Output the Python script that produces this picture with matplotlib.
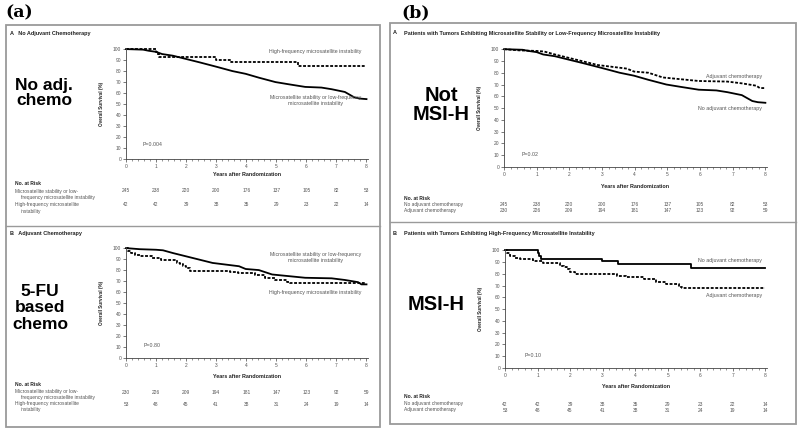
import numpy as np
import matplotlib
matplotlib.use('Agg')
import matplotlib.pyplot as plt
import matplotlib.ticker as mticker
import matplotlib.transforms as mtransforms
from matplotlib.patches import Rectangle

plt.rcParams['font.family'] = ['Liberation Sans', 'DejaVu Sans']

# ---------
#   data: Kaplan-Meier curves (years, % surviving)
#   MSS curves have many small events -> read as a polyline
#   MSI-H curves have few events -> read as steps
# ---------
mss_noadj_t = [0, 0.57, 0.75, 1.0, 1.2, 1.56, 2.0, 2.44, 3.0, 3.54, 3.98, 4.42, 4.97, 5.41, 5.96, 6.5, 6.84, 7.28, 7.6, 7.77, 8.0]
mss_noadj_s = [100, 99.5, 98.5, 97.5, 95.5, 94, 91, 88, 84, 80, 77.5, 74, 70, 68, 65.6, 65, 63.5, 61, 56, 55, 54.5]

mss_adj_t = [0, 0.46, 1.0, 1.23, 1.56, 2.0, 2.44, 2.88, 3.32, 3.76, 3.98, 4.42, 4.86, 5.41, 5.96, 6.84, 7.28, 7.72, 7.83, 8.0]
mss_adj_s = [100, 99, 98.5, 98, 95.5, 92.5, 89.5, 86.5, 85, 83.5, 81, 80, 76, 74.5, 73, 72.5, 71, 69, 67, 67]

msih_noadj_t = [0, 1.0, 1.04, 1.1, 2.98, 3.48, 5.72, 8.0]
msih_noadj_s = [100, 97.6, 95.2, 92.9, 90.5, 88.1, 84.6, 84.6]

msih_adj_t = [0, 0.06, 0.16, 0.3, 0.46, 0.87, 1.17, 1.68, 1.8, 1.89, 1.99, 2.14, 3.45, 3.72, 4.28, 4.64, 4.94, 5.35, 5.45, 8.0]
msih_adj_s = [100, 97.5, 95.3, 93.5, 92.5, 90.7, 89.3, 86.8, 85.5, 83.7, 81.7, 79.4, 78, 76.9, 75.2, 73.2, 71, 69, 68.2, 68.2]

years = [0, 1, 2, 3, 4, 5, 6, 7, 8]
risk_mss_noadj = [245, 238, 220, 200, 176, 137, 105, 82, 53]
risk_mss_adj = [230, 226, 209, 194, 181, 147, 123, 92, 59]
risk_msih_noadj = [42, 42, 39, 38, 35, 29, 23, 22, 14]
risk_msih_adj = [53, 48, 45, 41, 38, 31, 24, 19, 14]

W, H = 800, 432
fig = plt.figure(figsize=(8, 4.32), dpi=100)
fig.patch.set_facecolor('white')

def fx(x):
    return x / W

def fy(y):
    return 1 - y / H

grey = '#555555'
dark = '#222222'
dash = (0, (1.6, 0.9))


def make_axes(l, t, r, b, xlab_y):
    ax = fig.add_axes([fx(l), fy(b), (r - l) / W, (b - t) / H])
    ax.set_xlim(0, 8.05)
    ax.set_ylim(0, 101)
    for s in ['top', 'right']:
        ax.spines[s].set_visible(False)
    for s in ['left', 'bottom']:
        ax.spines[s].set_color('#444444')
        ax.spines[s].set_linewidth(0.6)
    ax.set_xticks(years)
    ax.set_yticks(np.arange(0, 101, 10))
    ax.xaxis.set_minor_locator(mticker.MultipleLocator(0.2))
    ax.tick_params(which='major', length=2, width=0.5, color='#444444', labelsize=3.5,
                   labelcolor=grey, pad=1.5)
    ax.tick_params(which='minor', length=1.2, width=0.4, color='#444444')
    ax.set_ylabel('Overall Survival (%)', fontsize=3.3, fontweight='bold', color=dark)
    ax.yaxis.set_label_coords(-22 / (r - l), 0.5)
    ax.set_xlabel('Years after Randomization', fontsize=3.9, fontweight='bold', color=dark)
    ax.xaxis.set_label_coords(0.5, -(xlab_y - b) / (b - t))
    ax.xaxis.label.set_va('center')
    ax.patch.set_alpha(0)
    return ax


def risk_table(ax, y_head, rows, x_lab):
    tr = mtransforms.blended_transform_factory(ax.transData, fig.transFigure)
    fig.text(fx(x_lab), fy(y_head), 'No. at Risk', fontsize=3.6, fontweight='bold',
             color=dark, va='center')
    for label_lines, y_lines, counts in rows:
        for txt, yy, indent in zip(label_lines, y_lines, [0, 6]):
            fig.text(fx(x_lab + indent), fy(yy), txt, fontsize=3.5, color=grey, va='center')
        for xv, n in zip(years, counts):
            ax.text(xv, fy(y_lines[0]), str(n), transform=tr, fontsize=3.5, color=grey,
                    ha='center', va='center')


def mss_line(ax, t, s, style='-'):
    ax.plot(t, s, color='black', lw=1.3, linestyle=style, clip_on=False)


def msih_line(ax, t, s, style='-'):
    ax.plot(t, s, drawstyle='steps-post', color='black', lw=1.3, linestyle=style, clip_on=False)


# ---------
#  (a) A: No adjuvant chemotherapy
# ---------
ax1 = make_axes(126, 48, 368, 159, 175)
mss_line(ax1, mss_noadj_t, mss_noadj_s)
msih_line(ax1, msih_noadj_t, msih_noadj_s, dash)
ax1.text(6.3, 97.5, 'High-frequency microsatellite instability', fontsize=3.8, color=grey,
         ha='center', va='center')
ax1.text(6.3, 53, 'Microsatellite stability or low-frequency\nmicrosatellite instability',
         fontsize=3.8, color=grey, ha='center', va='center', linespacing=1.3)
ax1.text(0.55, 13, 'P=0.004', fontsize=3.8, color=grey, va='center')
fig.text(fx(10), fy(34), 'A   No Adjuvant Chemotherapy', fontsize=4, fontweight='bold',
         color=dark, va='center')
risk_table(ax1, 183,
           [(['Microsatellite stability or low-', 'frequency microsatellite instability'], [191, 197], risk_mss_noadj),
            (['High-frequency microsatellite', 'instability'], [205, 211], risk_msih_noadj)], 15)
fig.text(fx(44), fy(93), 'No adj.\nchemo', fontsize=12.5, fontweight='bold', color='black',
         ha='center', va='center', linespacing=0.95)

# ---------
#  (a) B: Adjuvant chemotherapy
# ---------
ax2 = make_axes(126, 247, 368, 358, 376)
mss_line(ax2, mss_adj_t, mss_adj_s)
msih_line(ax2, msih_adj_t, msih_adj_s, dash)
ax2.text(6.3, 91.5, 'Microsatellite stability or low-frequency\nmicrosatellite instability',
         fontsize=3.8, color=grey, ha='center', va='center', linespacing=1.3)
ax2.text(6.3, 60, 'High-frequency microsatellite instability', fontsize=3.8, color=grey,
         ha='center', va='center')
ax2.text(0.6, 11, 'P=0.80', fontsize=3.8, color=grey, va='center')
fig.text(fx(10), fy(234), 'B   Adjuvant Chemotherapy', fontsize=4, fontweight='bold',
         color=dark, va='center')
risk_table(ax2, 385,
           [(['Microsatellite stability or low-', 'frequency microsatellite instability'], [392, 397], risk_mss_adj),
            (['High-frequency microsatellite', 'instability'], [404, 409], risk_msih_adj)], 15)
fig.text(fx(40), fy(308), '5-FU\nbased\nchemo', fontsize=12.5, fontweight='bold', color='black',
         ha='center', va='center', linespacing=1.1)

# ---------
#  (b) A: MSS / MSI-L patients
# ---------
ax3 = make_axes(504, 48, 767, 167, 186)
mss_line(ax3, mss_noadj_t, mss_noadj_s)
mss_line(ax3, mss_adj_t, mss_adj_s, dash)
ax3.text(7.9, 77, 'Adjuvant chemotherapy', fontsize=3.8, color=grey, ha='right', va='center')
ax3.text(7.9, 50, 'No adjuvant chemotherapy', fontsize=3.8, color=grey, ha='right', va='center')
ax3.text(0.55, 11, 'P=0.02', fontsize=3.8, color=grey, va='center')
fig.text(fx(393), fy(33), 'A', fontsize=4, fontweight='bold', color=dark, va='center')
fig.text(fx(404), fy(33),
         'Patients with Tumors Exhibiting Microsatellite Stability or Low-Frequency Microsatellite Instability',
         fontsize=4, fontweight='bold', color=dark, va='center')
risk_table(ax3, 199,
           [(['No adjuvant chemotherapy'], [205], risk_mss_noadj),
            (['Adjuvant chemotherapy'], [210.5], risk_mss_adj)], 404)
fig.text(fx(441), fy(105), 'Not\nMSI-H', fontsize=14.5, fontweight='bold', color='black',
         ha='center', va='center', linespacing=1.0)

# ---------
#  (b) B: MSI-H patients
# ---------
ax4 = make_axes(505, 249, 767, 368, 387)
msih_line(ax4, msih_noadj_t, msih_noadj_s)
msih_line(ax4, msih_adj_t, msih_adj_s, dash)
ax4.text(7.9, 91.5, 'No adjuvant chemotherapy', fontsize=3.8, color=grey, ha='right', va='center')
ax4.text(7.9, 61.5, 'Adjuvant chemotherapy', fontsize=3.8, color=grey, ha='right', va='center')
ax4.text(0.6, 11, 'P=0.10', fontsize=3.8, color=grey, va='center')
fig.text(fx(393), fy(234), 'B', fontsize=4, fontweight='bold', color=dark, va='center')
fig.text(fx(404), fy(234), 'Patients with Tumors Exhibiting High-Frequency Microsatellite Instability',
         fontsize=4, fontweight='bold', color=dark, va='center')
risk_table(ax4, 397,
           [(['No adjuvant chemotherapy'], [404], risk_msih_noadj),
            (['Adjuvant chemotherapy'], [410], risk_msih_adj)], 404)
fig.text(fx(436), fy(305), 'MSI-H', fontsize=14.5, fontweight='bold', color='black',
         ha='center', va='center')

# ---------
#  frames and panel letters
# ---------
for (l, t, r, b, mid) in [(6, 25, 380, 427, 226), (390, 23, 796, 424, 222)]:
    fig.add_artist(Rectangle((fx(l), fy(b)), (r - l) / W, (b - t) / H, transform=fig.transFigure,
                             fill=False, edgecolor='#9a9a9a', lw=1.3))
    fig.add_artist(plt.Line2D([fx(l), fx(r)], [fy(mid), fy(mid)], transform=fig.transFigure,
                              color='#9a9a9a', lw=1.0))

fig.text(fx(5), fy(13), '(a)', family='DejaVu Serif', fontsize=12.5, fontweight='bold', va='center')
fig.text(fx(401), fy(13), '(b)', family='DejaVu Serif', fontsize=12.5, fontweight='bold', va='center')

fig.savefig('out.png', dpi=100, facecolor='white')
